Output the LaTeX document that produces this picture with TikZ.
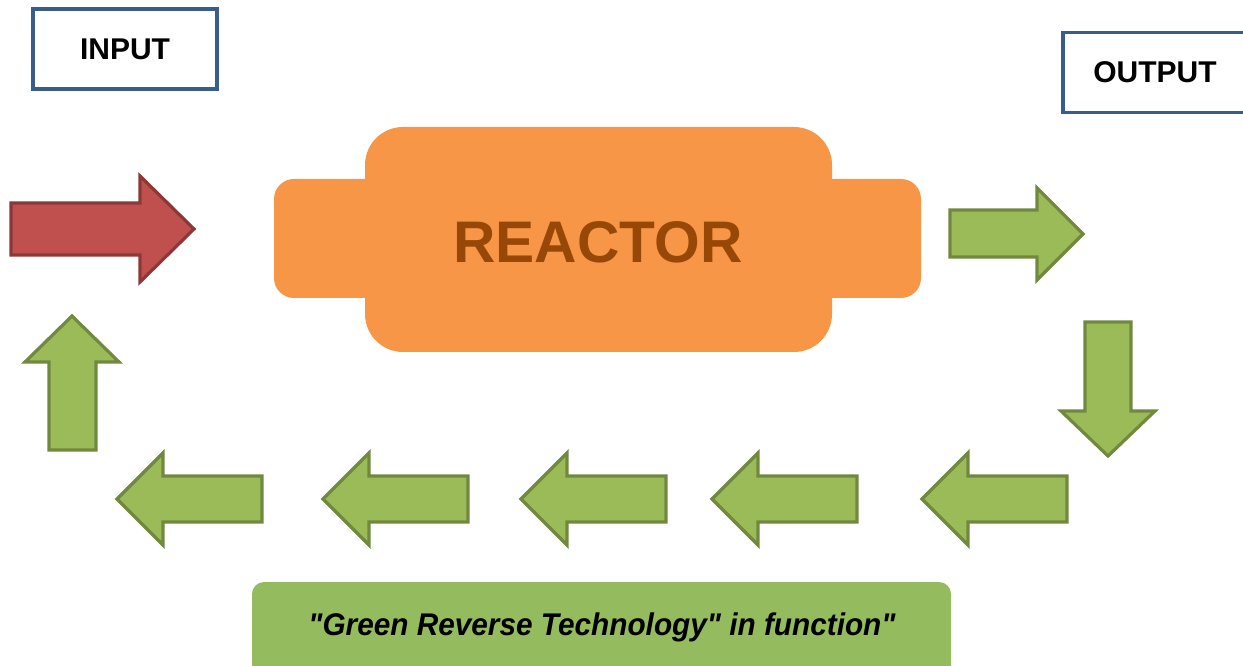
\documentclass[tikz,border=0pt]{standalone}
\usepackage{fontspec}
\setmainfont{Liberation Sans}[Ligatures=TeXOff]
\definecolor{boxblue}{HTML}{385D8A}
\definecolor{reacor}{HTML}{F79646}
\definecolor{reactxt}{HTML}{984806}
\definecolor{grfill}{HTML}{9BBB59}
\definecolor{grline}{HTML}{71893F}
\definecolor{rdfill}{HTML}{C0504D}
\definecolor{rdline}{HTML}{8C3836}
\definecolor{barfill}{HTML}{94BC5F}
\tikzset{
  labelbox/.style={draw=boxblue, line width=2.4pt, fill=white, minimum width=138pt, minimum height=60pt, font=\fontsize{22.5}{26}\selectfont\bfseries, inner sep=0pt},
  greenarrow/.style={fill=grfill, draw=grline, line width=2.4pt},
  redarrow/.style={fill=rdfill, draw=rdline, line width=2.4pt},
}
% left arrow: tip x, center y (pixel units)
\newcommand\leftarr[3]{%
  \draw[greenarrow] (#1,#2) coordinate (#3) -- ++(46,-46) -- ++(0,23) -- ++(99,0) -- ++(0,46) -- ++(-99,0) -- ++(0,23) -- cycle;}
\begin{document}
\begin{tikzpicture}[x=0.75pt,y=-0.75pt]
\useasboundingbox (0,0) rectangle (1243,666);
\clip (0,0) rectangle (1243,666);
% boxes
\node[labelbox] (input) at (125,49) {\raisebox{-1pt}{INPUT}};
\node[labelbox] (output) at (1155,72.5) {\raisebox{-2pt}{OUTPUT}};
% reactor
\fill[reacor, rounded corners=28.5pt] (365,127) rectangle (832,352);
\fill[reacor, rounded corners=15pt] (274,179) rectangle (921,298);
\node[text=reactxt, font=\fontsize{44}{50}\selectfont\bfseries] (reactor) at (598,242) {REACTOR};
% red input arrow
\draw[redarrow] (194,229) coordinate (redtip) -- (140,176) -- (140,203) -- (11,203) -- (11,255) -- (140,255) -- (140,282) -- cycle;
% green right arrow
\draw[greenarrow] (1083,234) coordinate (rtip) -- (1037,188) -- (1037,210) -- (950,210) -- (950,257) -- (1037,257) -- (1037,280) -- cycle;
% green down arrow
\draw[greenarrow] (1108,456) coordinate (dtip) -- (1061,411) -- (1085,411) -- (1085,322) -- (1131,322) -- (1131,411) -- (1155,411) -- cycle;
% left arrows
\leftarr{922}{499}{l1}
\leftarr{712}{499}{l2}
\leftarr{521}{499}{l3}
\leftarr{323}{499}{l4}
\leftarr{117}{499}{l5}
% up arrow
\draw[greenarrow] (72,316) coordinate (utip) -- (119,362) -- (96,362) -- (96,450) -- (49,450) -- (49,362) -- (25,362) -- cycle;
% bottom bar
\fill[barfill, rounded corners=9pt] (252,582) rectangle (951,690);
\node[font=\fontsize{23.5}{28}\selectfont\bfseries\itshape] (caption) at (602,627) {\scalebox{0.95}[1]{"Green Reverse Technology" in function"}};
\end{tikzpicture}
\end{document}
